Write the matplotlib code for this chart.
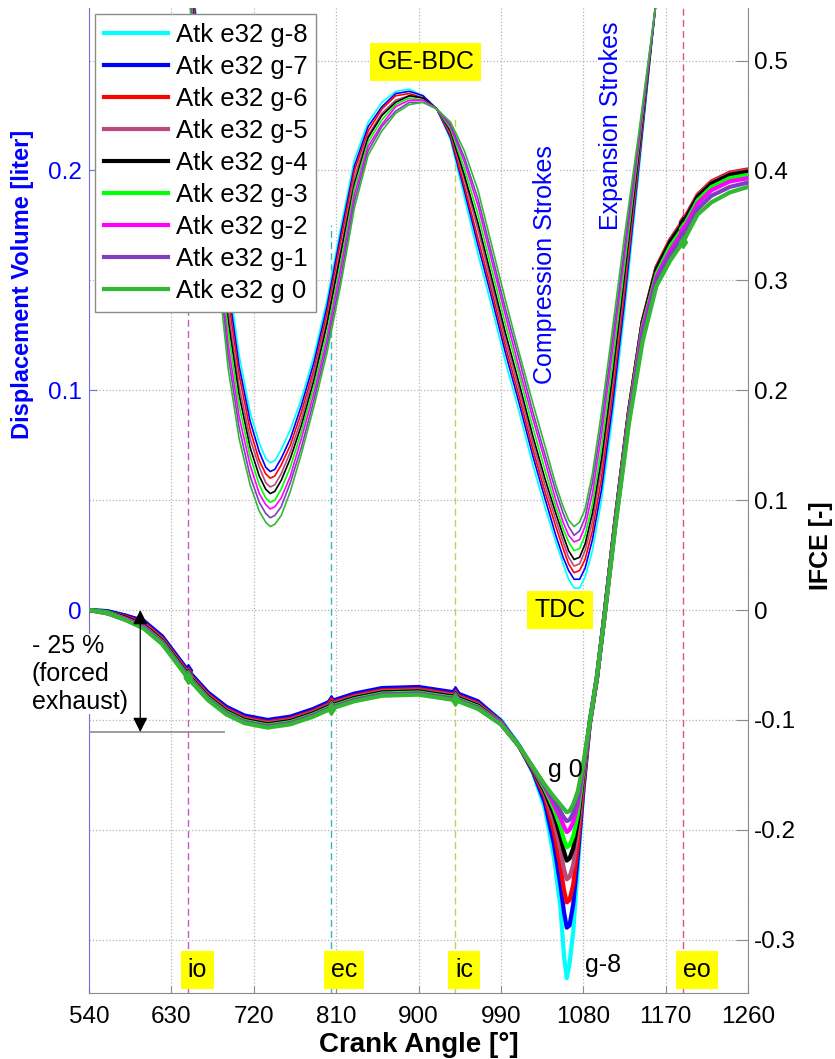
import matplotlib
matplotlib.use("Agg")
import matplotlib.pyplot as plt
from matplotlib.lines import Line2D

plt.rcParams['font.family'] = ['Liberation Sans', 'DejaVu Sans']

labels = ['Atk e32 g-8', 'Atk e32 g-7', 'Atk e32 g-6', 'Atk e32 g-5', 'Atk e32 g-4',
          'Atk e32 g-3', 'Atk e32 g-2', 'Atk e32 g-1', 'Atk e32 g 0']
colors = ['#00ffff', '#0000ff', '#ff0000', '#b84a7e', '#000000',
          '#00ff00', '#ff00ff', '#7f3fbf', '#33b833']

# displacement volume [liter], left axis
vol_angle = [650, 665, 680, 692, 704, 716, 726, 733, 738, 743,
             750, 760, 772, 786, 800, 815, 830, 845, 860, 875,
             890, 905, 920, 935, 950, 965, 980, 995, 1010, 1025,
             1038, 1050, 1058, 1064, 1070, 1076, 1082, 1090, 1100, 1112,
             1125, 1140, 1155, 1168]
vol_g8 = [0.294, 0.245, 0.194, 0.153, 0.116, 0.090, 0.076, 0.069, 0.067, 0.068,
          0.073, 0.082, 0.096, 0.116, 0.141, 0.174, 0.205, 0.222, 0.231, 0.236,
          0.237, 0.234, 0.228, 0.214, 0.188, 0.162, 0.138, 0.113, 0.090, 0.066,
          0.047, 0.031, 0.021, 0.014, 0.010, 0.010, 0.015, 0.027, 0.050, 0.088,
          0.135, 0.196, 0.259, 0.310]
vol_g7 = [0.292, 0.241, 0.189, 0.147, 0.111, 0.086, 0.072, 0.065, 0.063, 0.064,
          0.069, 0.078, 0.093, 0.113, 0.138, 0.171, 0.202, 0.220, 0.229, 0.235,
          0.236, 0.234, 0.228, 0.215, 0.191, 0.166, 0.142, 0.117, 0.094, 0.070,
          0.051, 0.034, 0.024, 0.018, 0.014, 0.014, 0.019, 0.032, 0.055, 0.093,
          0.140, 0.199, 0.259, 0.309]
vol_g6 = [0.290, 0.238, 0.185, 0.142, 0.107, 0.082, 0.068, 0.062, 0.060, 0.061,
          0.066, 0.075, 0.090, 0.110, 0.135, 0.168, 0.200, 0.218, 0.228, 0.234,
          0.235, 0.233, 0.228, 0.216, 0.193, 0.169, 0.145, 0.120, 0.097, 0.073,
          0.054, 0.038, 0.028, 0.021, 0.017, 0.018, 0.023, 0.036, 0.060, 0.098,
          0.144, 0.201, 0.260, 0.309]
vol_g5 = [0.287, 0.234, 0.181, 0.137, 0.102, 0.078, 0.065, 0.058, 0.056, 0.057,
          0.062, 0.072, 0.087, 0.108, 0.132, 0.164, 0.197, 0.216, 0.226, 0.232,
          0.234, 0.233, 0.228, 0.217, 0.196, 0.173, 0.148, 0.123, 0.100, 0.076,
          0.057, 0.041, 0.031, 0.024, 0.020, 0.021, 0.027, 0.040, 0.065, 0.103,
          0.148, 0.203, 0.260, 0.308]
vol_g4 = [0.285, 0.231, 0.177, 0.132, 0.098, 0.074, 0.061, 0.055, 0.053, 0.054,
          0.059, 0.069, 0.084, 0.105, 0.130, 0.162, 0.194, 0.215, 0.225, 0.231,
          0.234, 0.233, 0.228, 0.218, 0.198, 0.176, 0.151, 0.126, 0.103, 0.079,
          0.060, 0.044, 0.034, 0.027, 0.023, 0.024, 0.030, 0.044, 0.069, 0.107,
          0.152, 0.205, 0.260, 0.308]
vol_g3 = [0.283, 0.227, 0.172, 0.127, 0.093, 0.070, 0.057, 0.051, 0.049, 0.050,
          0.055, 0.065, 0.081, 0.102, 0.126, 0.158, 0.192, 0.213, 0.223, 0.230,
          0.233, 0.232, 0.228, 0.219, 0.201, 0.180, 0.155, 0.130, 0.107, 0.083,
          0.064, 0.047, 0.037, 0.031, 0.027, 0.028, 0.034, 0.048, 0.074, 0.112,
          0.156, 0.208, 0.261, 0.307]
vol_g2 = [0.281, 0.223, 0.167, 0.121, 0.088, 0.066, 0.053, 0.048, 0.046, 0.047,
          0.051, 0.061, 0.078, 0.099, 0.123, 0.155, 0.189, 0.211, 0.221, 0.229,
          0.232, 0.232, 0.228, 0.220, 0.204, 0.184, 0.159, 0.134, 0.110, 0.087,
          0.068, 0.050, 0.040, 0.034, 0.031, 0.032, 0.038, 0.053, 0.080, 0.118,
          0.161, 0.210, 0.261, 0.306]
vol_g1 = [0.278, 0.219, 0.163, 0.116, 0.083, 0.061, 0.049, 0.044, 0.042, 0.043,
          0.047, 0.058, 0.074, 0.096, 0.120, 0.151, 0.186, 0.209, 0.220, 0.227,
          0.231, 0.231, 0.228, 0.221, 0.206, 0.187, 0.162, 0.137, 0.114, 0.090,
          0.071, 0.054, 0.044, 0.038, 0.034, 0.036, 0.042, 0.058, 0.085, 0.123,
          0.165, 0.213, 0.262, 0.306]
vol_g0 = [0.276, 0.215, 0.158, 0.110, 0.078, 0.057, 0.045, 0.040, 0.038, 0.039,
          0.043, 0.054, 0.071, 0.093, 0.117, 0.148, 0.183, 0.207, 0.218, 0.226,
          0.230, 0.231, 0.228, 0.222, 0.209, 0.191, 0.166, 0.141, 0.117, 0.094,
          0.075, 0.057, 0.047, 0.041, 0.038, 0.040, 0.046, 0.062, 0.090, 0.128,
          0.170, 0.215, 0.262, 0.305]

# IFCE [-], right axis
ifce_angle = [540, 560, 580, 600, 620, 648, 670, 690, 710, 735, 760, 785, 804, 830, 860, 900, 940, 965,
              990, 1010, 1025, 1038, 1048, 1055, 1059, 1062, 1065, 1069, 1074, 1080, 1087, 1095,
              1103, 1115, 1130, 1145, 1160, 1175, 1189, 1205, 1220, 1240, 1260]
ifce_g8 = [0.000, -0.001, -0.005, -0.011, -0.025, -0.056, -0.076, -0.089, -0.097, -0.101, -0.098, -0.091,
           -0.084, -0.077, -0.072, -0.071, -0.076, -0.084,
           -0.100, -0.123, -0.148, -0.180, -0.225, -0.270, -0.315, -0.335, -0.322, -0.293, -0.235, -0.165,
           -0.100, -0.062,
           -0.006, 0.080, 0.180, 0.262, 0.310, 0.335, 0.352, 0.376, 0.388, 0.396, 0.399]
ifce_g7 = [0.000, -0.001, -0.005, -0.010, -0.024, -0.055, -0.075, -0.088, -0.096, -0.100, -0.097, -0.090,
           -0.083, -0.076, -0.071, -0.070, -0.075, -0.083,
           -0.101, -0.124, -0.147, -0.175, -0.213, -0.250, -0.275, -0.289, -0.287, -0.268, -0.225, -0.165,
           -0.105, -0.062,
           -0.006, 0.080, 0.180, 0.262, 0.311, 0.336, 0.353, 0.377, 0.389, 0.397, 0.400]
ifce_g6 = [0.000, -0.002, -0.006, -0.012, -0.026, -0.057, -0.077, -0.090, -0.098, -0.102, -0.099, -0.092,
           -0.085, -0.078, -0.073, -0.072, -0.077, -0.085,
           -0.102, -0.124, -0.146, -0.170, -0.202, -0.233, -0.255, -0.266, -0.264, -0.250, -0.215, -0.160,
           -0.104, -0.062,
           -0.006, 0.081, 0.181, 0.263, 0.312, 0.337, 0.354, 0.378, 0.390, 0.398, 0.401]
ifce_g5 = [0.000, -0.002, -0.007, -0.013, -0.027, -0.058, -0.078, -0.091, -0.099, -0.103, -0.100, -0.093,
           -0.086, -0.079, -0.074, -0.073, -0.078, -0.086,
           -0.102, -0.124, -0.145, -0.167, -0.193, -0.218, -0.236, -0.245, -0.243, -0.232, -0.203, -0.155,
           -0.104, -0.061,
           -0.006, 0.080, 0.180, 0.262, 0.311, 0.336, 0.353, 0.377, 0.389, 0.397, 0.400]
ifce_g4 = [0.000, -0.002, -0.007, -0.014, -0.028, -0.059, -0.079, -0.092, -0.100, -0.104, -0.101, -0.094,
           -0.087, -0.080, -0.075, -0.074, -0.079, -0.087,
           -0.103, -0.124, -0.145, -0.165, -0.186, -0.206, -0.220, -0.228, -0.226, -0.217, -0.193, -0.150,
           -0.103, -0.061,
           -0.006, 0.080, 0.180, 0.262, 0.310, 0.335, 0.352, 0.376, 0.388, 0.396, 0.399]
ifce_g3 = [0.000, -0.002, -0.008, -0.015, -0.029, -0.060, -0.080, -0.093, -0.101, -0.105, -0.102, -0.095,
           -0.088, -0.081, -0.076, -0.075, -0.080, -0.088,
           -0.103, -0.124, -0.144, -0.163, -0.181, -0.197, -0.209, -0.216, -0.214, -0.206, -0.186, -0.147,
           -0.103, -0.061,
           -0.007, 0.079, 0.178, 0.259, 0.306, 0.331, 0.348, 0.373, 0.385, 0.393, 0.396]
ifce_g2 = [0.000, -0.003, -0.008, -0.015, -0.030, -0.061, -0.081, -0.094, -0.102, -0.106, -0.103, -0.096,
           -0.089, -0.082, -0.077, -0.076, -0.081, -0.089,
           -0.103, -0.124, -0.144, -0.161, -0.177, -0.189, -0.197, -0.202, -0.200, -0.193, -0.177, -0.144,
           -0.103, -0.060,
           -0.007, 0.078, 0.176, 0.256, 0.303, 0.327, 0.345, 0.370, 0.382, 0.390, 0.393]
ifce_g1 = [0.000, -0.003, -0.009, -0.016, -0.030, -0.061, -0.081, -0.094, -0.102, -0.106, -0.103, -0.096,
           -0.089, -0.082, -0.077, -0.076, -0.081, -0.089,
           -0.104, -0.124, -0.143, -0.160, -0.173, -0.183, -0.189, -0.192, -0.191, -0.185, -0.171, -0.142,
           -0.103, -0.060,
           -0.008, 0.077, 0.173, 0.251, 0.300, 0.323, 0.340, 0.365, 0.377, 0.385, 0.389]
ifce_g0 = [0.000, -0.003, -0.009, -0.017, -0.031, -0.062, -0.082, -0.095, -0.103, -0.107, -0.104, -0.097,
           -0.090, -0.083, -0.078, -0.077, -0.082, -0.090,
           -0.104, -0.124, -0.143, -0.159, -0.170, -0.177, -0.181, -0.184, -0.183, -0.177, -0.165, -0.140,
           -0.103, -0.060,
           -0.008, 0.075, 0.170, 0.245, 0.295, 0.318, 0.335, 0.360, 0.371, 0.380, 0.385]

volumes = [vol_g8, vol_g7, vol_g6, vol_g5, vol_g4, vol_g3, vol_g2, vol_g1, vol_g0]
ifces = [ifce_g8, ifce_g7, ifce_g6, ifce_g5, ifce_g4, ifce_g3, ifce_g2, ifce_g1, ifce_g0]

# valve events
event_names = ['io', 'ec', 'ic', 'eo']
event_angles = [648, 804, 940, 1189]
event_colors = ['#cc55cc', '#33bbbb', '#cccc55', '#dd5570']
event_tops = [0.35, 0.35, 0.448, 0.56]

x_ticks = [540, 630, 720, 810, 900, 990, 1080, 1170, 1260]
ifce_ticks = [-0.3, -0.2, -0.1, 0, 0.1, 0.2, 0.3, 0.4, 0.5]
ifce_ticklabels = ['-0.3', '-0.2', '-0.1', '0', '0.1', '0.2', '0.3', '0.4', '0.5']
vol_ticks = [0, 0.1, 0.2]
vol_ticklabels = ['0', '0.1', '0.2']

ifce_lim = (-0.3485, 0.5478)
vol_lim = (ifce_lim[0] / 2, ifce_lim[1] / 2)

fig = plt.figure(figsize=(8.35, 10.59), dpi=100)
ax = fig.add_axes([0.1066, 0.0623, 0.7892, 0.9301])
ax2 = ax.twinx()

gray = '#8c8c8c'
spine_blue = '#7070e0'

ax.set_xlim(540, 1260)
ax.set_ylim(*vol_lim)
ax2.set_ylim(*ifce_lim)

ax.set_xticks(x_ticks)
ax.set_xticklabels([str(t) for t in x_ticks])
ax.set_yticks(vol_ticks)
ax.set_yticklabels(vol_ticklabels)
ax.set_yticks([t / 2 for t in ifce_ticks], minor=True)
ax2.set_yticks(ifce_ticks)
ax2.set_yticklabels(ifce_ticklabels)

ax.grid(True, which='major', axis='x', color='#b4b4b4', linestyle=':', linewidth=0.9)
ax.grid(True, which='both', axis='y', color='#b4b4b4', linestyle=':', linewidth=0.9)
ax.set_axisbelow(True)

ax.tick_params(axis='x', direction='in', length=5, color=gray, labelsize=17.5, pad=9)
ax.tick_params(axis='y', which='major', direction='in', length=6, color=spine_blue,
               labelcolor='blue', labelsize=17.5, pad=5)
ax.tick_params(axis='y', which='minor', length=0)
ax2.tick_params(axis='y', direction='in', length=9, color=gray, labelsize=17.5, pad=4)

for s in ['top', 'right']:
    ax.spines[s].set_visible(False)
ax.spines['left'].set_color(spine_blue)
ax.spines['bottom'].set_color(gray)
for s in ['top', 'left', 'bottom']:
    ax2.spines[s].set_visible(False)
ax2.spines['right'].set_color(gray)

# event lines
for a, c, top in zip(event_angles, event_colors, event_tops):
    frac = (top - ifce_lim[0]) / (ifce_lim[1] - ifce_lim[0])
    ax.axvline(a, ymin=0, ymax=min(frac, 1), color=c, linestyle=(0, (5, 3)), linewidth=1.0, zorder=1.5)

# displacement curves
for v, c in zip(volumes, colors):
    ax.plot(vol_angle, v, color=c, linewidth=1.2, zorder=2)

# IFCE curves
event_idx = [ifce_angle.index(a) for a in event_angles]
for f, c in zip(ifces, colors):
    ax2.plot(ifce_angle, f, color=c, linewidth=3.0, solid_joinstyle='round',
             marker='d', markersize=6, markevery=event_idx, zorder=3)

ax.set_xlabel('Crank Angle [°]', fontsize=20, fontweight='bold', labelpad=3)
ax.set_ylabel('Displacement Volume [liter]', fontsize=17, fontweight='bold', color='blue')
ax.yaxis.set_label_coords(-0.0835, 0.719)
ax2.set_ylabel('IFCE [-]', fontsize=18, fontweight='bold')
ax2.yaxis.set_label_coords(1.093, 0.454)

yellow = dict(facecolor='yellow', edgecolor='none', pad=5)
white = dict(facecolor='white', edgecolor='none', pad=1)

for name, a in zip(event_names, event_angles):
    ax2.text(a, -0.328, name, fontsize=18, ha='left', va='center', bbox=yellow, zorder=6)

ax2.text(908, 0.4986, 'GE-BDC', fontsize=18, ha='center', va='center', bbox=yellow, zorder=6)
ax2.text(1054.6, 0.0, 'TDC', fontsize=18, ha='center', va='center', bbox=yellow, zorder=6)
ax2.text(1041, -0.146, 'g 0', fontsize=18, ha='left', va='center', zorder=6)
ax2.text(1082, -0.323, 'g-8', fontsize=18, ha='left', va='center', zorder=6)
ax2.text(1038.2, 0.314, 'Compression Strokes', fontsize=18, color='blue', rotation=90,
         ha='center', va='center', bbox=white, zorder=6)
ax2.text(1110.3, 0.441, 'Expansion Strokes', fontsize=18, color='blue', rotation=90,
         ha='center', va='center', bbox=white, zorder=6)

# forced exhaust annotation
ax2.text(477.7, -0.058, '- 25 %\n(forced\nexhaust)', fontsize=18, ha='left', va='center',
         linespacing=1.2, bbox=dict(facecolor='white', edgecolor='none', pad=0),
         clip_on=False, zorder=6)
ax2.annotate('', xy=(596, -0.111), xytext=(596, 0.0),
             arrowprops=dict(arrowstyle='<|-|>', color='black', lw=0.9, mutation_scale=22,
                             shrinkA=0, shrinkB=0), zorder=6)
ax2.plot([540, 688], [-0.111, -0.111], color=gray, linewidth=1.2, zorder=4)

handles = [Line2D([0], [0], color=c, linewidth=3.0) for c in colors]
leg = ax2.legend(handles, labels, loc='upper left', bbox_to_anchor=(0.009, 0.994),
                 borderaxespad=0, fontsize=18.5, fancybox=False, framealpha=1,
                 edgecolor=gray, handlelength=2.5, handletextpad=0.3,
                 labelspacing=0.31, borderpad=0.35)
leg.get_frame().set_linewidth(1.0)
leg.set_zorder(10)

fig.savefig('out.png', dpi=100)
